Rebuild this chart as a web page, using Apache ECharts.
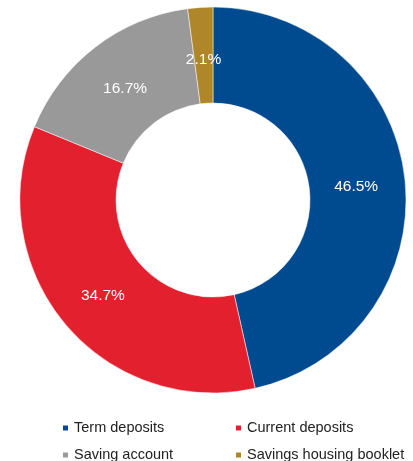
<!DOCTYPE html>
<html><head><meta charset="utf-8">
<script src="https://cdn.jsdelivr.net/npm/echarts@6/dist/echarts.min.js"></script>
<style>html,body{margin:0;padding:0;background:#fff}#c{width:413px;height:461px}</style>
</head><body><div id="c"></div>
<script>
const categories = ['Term deposits', 'Current deposits', 'Saving account', 'Savings housing booklet'];
const values = [46.5, 34.7, 16.7, 2.1];
const colors = ['#004a8f', '#e3202e', '#999999', '#b0862a'];

const chart = echarts.init(document.getElementById('c'), null, {renderer: 'canvas'});
const legendText = {fontFamily: 'Liberation Sans, Arial, sans-serif', fontSize: 14.5, lineHeight: 16, color: '#222'};
const legendPos = [[61, 420], [234, 420], [61, 447], [234, 447]];
const dataItems = categories.map((n, i) => ({name: n, value: values[i]}));
chart.setOption({
  animation: false,
  color: colors,
  legend: categories.map((n, i) => ({
    data: [n], left: legendPos[i][0], top: legendPos[i][1], padding: 0,
    itemWidth: 7, itemHeight: 7, icon: 'rect', textStyle: legendText
  })),
  series: [{
    type: 'pie',
    center: [213, 200],
    radius: [97, 193],
    startAngle: 90,
    clockwise: true,
    label: {show: false},
    labelLine: {show: false},
    itemStyle: {borderColor: '#fff', borderWidth: 0.5},
    emphasis: {disabled: true},
    data: dataItems
  }, {
    type: 'pie',
    z: 5,
    center: [213, 200],
    radius: [97, 185],
    startAngle: 90,
    clockwise: true,
    silent: true,
    legendHoverLink: false,
    avoidLabelOverlap: false,
    itemStyle: {color: 'rgba(0,0,0,0)', borderWidth: 0},
    label: {show: true, position: 'inside', offset: [0, 3], formatter: p => p.value.toFixed(1) + '%', color: '#fff', fontSize: 15.5, fontFamily: 'Liberation Sans, Arial, sans-serif'},
    labelLine: {show: false},
    emphasis: {disabled: true},
    data: dataItems
  }]
});
</script></body></html>
